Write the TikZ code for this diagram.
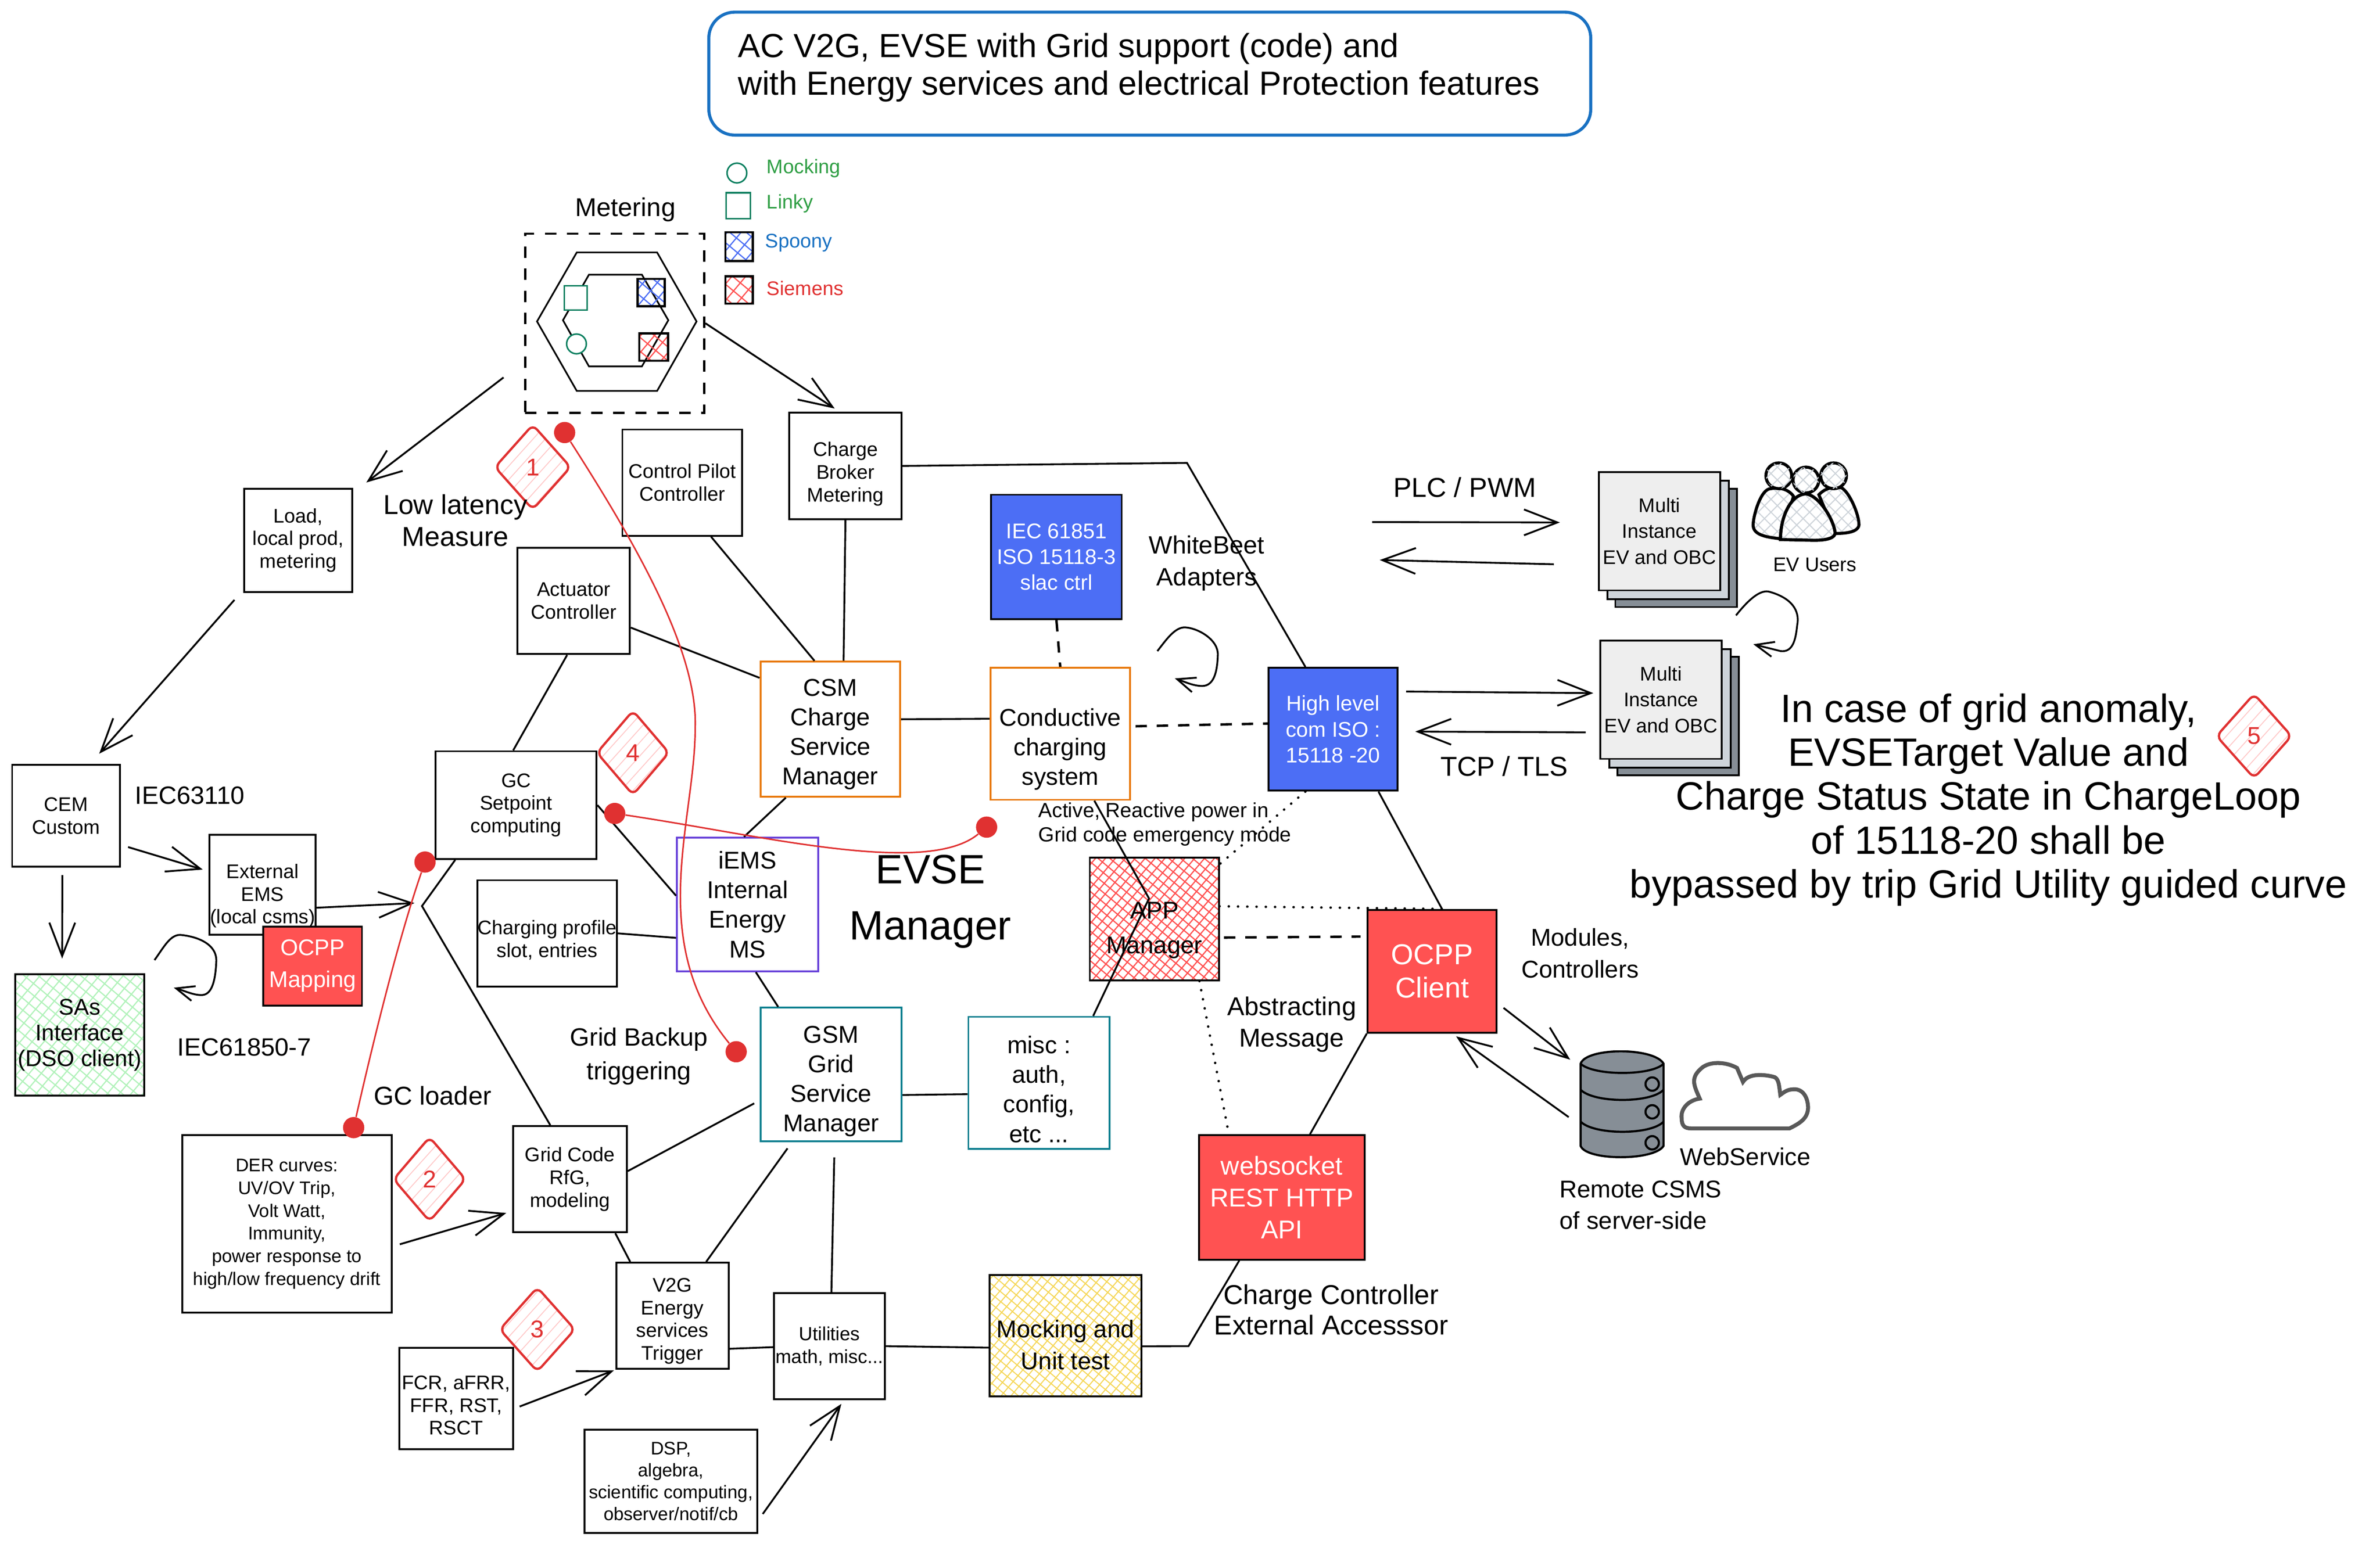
\documentclass[tikz,border=0pt]{standalone}
\usepackage{fontspec}
\setmainfont{Liberation Sans}
\usetikzlibrary{arrows.meta,patterns.meta,shapes.geometric}
\newcommand{\fs}[2]{\fontsize{#1}{#2}\selectfont}
\newcommand{\upgap}[1]{\rule{0pt}{#1}}
\definecolor{ttblue}{HTML}{1971C2}
\definecolor{ttteal}{HTML}{0B7F5F}
\definecolor{ttgreen}{HTML}{2F9E44}
\definecolor{ttred}{HTML}{E03131}
\definecolor{fillblue}{HTML}{4C6EF5}
\definecolor{fillred}{HTML}{FF5252}
\definecolor{ttorange}{HTML}{E8790C}
\definecolor{ttcyan}{HTML}{0C7F8F}
\definecolor{ttpurple}{HTML}{6741D9}
\definecolor{greyA}{HTML}{EEEEEE}
\definecolor{greyB}{HTML}{CED4DA}
\definecolor{greyC}{HTML}{868E96}
\definecolor{hatchgreen}{HTML}{B2F2BB}
\definecolor{hatchyellow}{HTML}{F5D75A}
\definecolor{hatchpink}{HTML}{FFC9C9}
\tikzset{
  blk/.style={draw, line width=1.2pt, align=center, inner sep=0pt, font=\fs{13}{15}},
  blkbig/.style={blk, font=\fs{16}{19.5}},
  txt/.style={align=center, inner sep=0pt, font=\fs{17}{21}},
  conn/.style={line width=1.2pt},
  arw/.style={line width=1.2pt, -{Straight Barb[length=22pt,width=17pt]}},
  arwsm/.style={line width=1.2pt, -{Straight Barb[length=12pt,width=10pt]}},
  dashedln/.style={line width=1.6pt, dash pattern=on 7.5pt off 6.5pt},
  dottedln/.style={line width=1.6pt, line cap=round, dash pattern=on 0.1pt off 6pt},
  redln/.style={draw=ttred, line width=1pt},
  reddot/.style={circle, fill=ttred, minimum size=14pt, inner sep=0pt},
  mark5/.style={diamond, draw=ttred, line width=1.5pt, aspect=0.9, inner sep=0pt, rounded corners=4pt, text=ttred, font=\fs{16}{18},
    pattern={Lines[angle=48,distance=6pt,line width=.6pt]}, pattern color=hatchpink},
  hatchred/.style={pattern={Hatch[angle=50,distance=7pt,line width=.8pt]}, pattern color=fillred},
  hatchblue/.style={pattern={Hatch[angle=50,distance=7pt,line width=.8pt]}, pattern color=fillblue},
}
\begin{document}
\begin{tikzpicture}[x=1pt, y=-1pt]
\useasboundingbox (0,0) rectangle (1568,1029);
% title
\node[draw=ttblue, line width=2pt, rounded corners=17pt, minimum width=581pt, minimum height=81pt] (titlebox) at (757.5,48.5){};
\node[anchor=west, align=left, inner sep=0pt, font=\fs{22}{25}] (titletxt) at (486,44.5){AC V2G, EVSE with Grid support (code) and\\with Energy services and electrical Protection features};
% legend
\node[circle, draw=ttteal, line width=1pt, minimum size=13pt, inner sep=0pt] (lgcircle) at (485.5,114){};
\node[draw=ttteal, line width=1pt, minimum width=16pt, minimum height=17pt] (lgsquare) at (486.5,135.5){};
\node[draw, line width=1.4pt, hatchblue, minimum width=18pt, minimum height=19pt] (lgblue) at (487,162.5){};
\node[draw, line width=1.4pt, hatchred, minimum width=18pt, minimum height=18pt] (lgred) at (487,191){};
\node[anchor=west, inner sep=0pt, text=ttgreen, font=\fs{13}{15}] (lgmock) at (505,111){Mocking};
\node[anchor=west, inner sep=0pt, text=ttgreen, font=\fs{13}{15}] (lglinky) at (505,134){Linky};
\node[anchor=west, inner sep=0pt, text=ttblue, font=\fs{13}{15}] (lgspoony) at (504,160){Spoony};
\node[anchor=west, inner sep=0pt, text=ttred, font=\fs{13}{15}] (lgsiemens) at (505,190){Siemens};
% metering
\node[txt] (metlabel) at (412,138){Metering};
\node[draw, line width=1.5pt, dash pattern=on 7.5pt off 7pt, minimum width=118pt, minimum height=118pt] (metbox) at (405,213){};
\draw[line width=1.1pt] (353.8,211.8) -- (380,166.3) -- (432.9,166.3) -- (458.9,211.8) -- (432.9,257.6) -- (380,257.6) -- cycle;
\draw[line width=1.1pt] (370.9,211) -- (388,181) -- (422.9,181) -- (440.3,211) -- (422.9,241.4) -- (388,241.4) -- cycle;
\node[draw=ttteal, line width=1pt, fill=white, minimum width=15pt, minimum height=16pt] (metsq) at (379.2,196.2){};
\node[circle, draw=ttteal, line width=1pt, fill=white, minimum size=13pt, inner sep=0pt] (metcirc) at (379.8,226.6){};
\node[draw, line width=1.4pt, hatchblue, minimum width=18pt, minimum height=18pt] (metblue) at (429,192.8){};
\node[draw, line width=1.4pt, hatchred, minimum width=19pt, minimum height=18pt] (metred) at (430.7,228.7){};
% boxes on the left
\node[blk, minimum width=71pt, minimum height=68pt] (load) at (196.5,356){Load,\\local prod,\\metering};
\node[blk, minimum width=71pt, minimum height=67pt] (cem) at (43.5,537.5){CEM\\Custom};
\node[blk, minimum width=70pt, minimum height=66pt] (extems) at (173,583){\upgap{24pt}External\\EMS\\(local csms)};
\node[blk, fill=fillred, text=white, font=\fs{15}{21}, minimum width=65pt, minimum height=52pt] (ocppmap) at (206,636.5){OCPP\\Mapping};
\node[blk, pattern={Hatch[angle=50,distance=6pt,line width=.8pt]}, pattern color=hatchgreen, font=\fs{15}{17}, minimum width=85pt, minimum height=80pt] (sas) at (52.5,682){SAs\\Interface\\(DSO client)};
\node[blk, minimum width=106pt, minimum height=71pt] (gcset) at (340,530.5){GC\\Setpoint\\computing};
\node[blk, minimum width=74pt, minimum height=70pt] (actuator) at (378,396){Actuator\\Controller};
\node[blk, minimum width=79pt, minimum height=70pt] (ctrlpilot) at (449.5,318){Control Pilot\\Controller};
\node[blk, minimum width=74pt, minimum height=70pt] (broker) at (557,307){\upgap{20pt}Charge\\Broker\\Metering};
\node[blk, minimum width=91pt, minimum height=70pt] (chgprof) at (360.5,615){\upgap{18pt}Charging profile\\slot, entries};
% managers
\node[blkbig, draw=ttorange, minimum width=92pt, minimum height=89pt] (csm) at (547,480.5){\upgap{18pt}CSM\\Charge\\Service\\Manager};
\node[blkbig, draw=ttorange, minimum width=92pt, minimum height=87pt] (conductive) at (698.5,483.5){\upgap{32pt}Conductive\\charging\\system};
\node[blkbig, draw=ttpurple, minimum width=93pt, minimum height=88pt] (iems) at (492.5,596){iEMS\\Internal\\Energy\\MS};
\node[blkbig, draw=ttcyan, minimum width=93pt, minimum height=88pt] (gsm) at (547.5,708){\upgap{20pt}GSM\\Grid\\Service\\Manager};
\node[blkbig, draw=ttcyan, minimum width=93pt, minimum height=87pt] (misc) at (684.5,713.5){\upgap{20pt}misc :\\auth,\\config,\\etc ...};
\node[blk, fill=fillblue, text=white, font=\fs{14}{17}, minimum width=86pt, minimum height=82pt] (iec) at (696,367){IEC 61851\\ISO 15118-3\\slac ctrl};
\node[blk, fill=fillblue, text=white, font=\fs{14}{17}, minimum width=85pt, minimum height=81pt] (high) at (878.3,480.5){High level\\com ISO :\\15118 -20};
\node[blk, pattern={Hatch[angle=50,distance=5pt,line width=.8pt]}, pattern color=fillred, font=\fs{16}{23}, minimum width=85pt, minimum height=81pt] (app) at (760.5,605.5){\upgap{26pt}APP\\Manager};
\node[blk, fill=fillred, text=white, font=\fs{19}{22}, minimum width=85pt, minimum height=81pt] (ocpp) at (943.5,640){OCPP\\Client};
\node[blk, fill=fillred, text=white, font=\fs{17}{21}, minimum width=109pt, minimum height=82pt] (websock) at (844.5,789){websocket\\REST HTTP\\API};
% lower part
\node[blk, font=\fs{12}{15}, minimum width=138pt, minimum height=117pt] (der) at (189,806.5){DER curves:\\UV/OV Trip,\\Volt Watt,\\Immunity,\\power response to\\high/low frequency drift};
\node[blk, minimum width=75pt, minimum height=70pt] (gridcode) at (375.5,777){Grid Code\\RfG,\\modeling};
\node[blk, minimum width=74pt, minimum height=70pt] (v2g) at (443,867){\upgap{16pt}V2G\\Energy\\services\\Trigger};
\node[blk, font=\fs{12.5}{15}, minimum width=73pt, minimum height=70pt] (util) at (546.5,887){Utilities\\math, misc...};
\node[blk, pattern={Hatch[angle=50,distance=5pt,line width=.7pt]}, pattern color=hatchyellow, font=\fs{16}{21}, minimum width=100pt, minimum height=80pt] (mock) at (702,880){\upgap{24pt}Mocking and\\Unit test};
\node[blk, minimum width=75pt, minimum height=67pt] (fcr) at (300.5,921.5){\upgap{18pt}FCR, aFRR,\\FFR, RST,\\RSCT};
\node[blk, font=\fs{12}{14.5}, minimum width=114pt, minimum height=68pt] (dsp) at (442,976){DSP,\\algebra,\\scientific computing,\\observer/notif/cb};
% multi instance stacks
\node[blk, fill=greyC, minimum width=80pt, minimum height=78pt] (multiAc) at (1104.2,361){};
\node[blk, fill=greyB, minimum width=80pt, minimum height=78pt] (multiAb) at (1099,355.8){};
\node[blk, fill=greyA, font=\fs{13}{17}, minimum width=80pt, minimum height=78pt] (multiA) at (1093.3,350){Multi\\Instance\\EV and OBC};
\node[blk, fill=greyC, minimum width=80pt, minimum height=78pt] (multiBc) at (1105.5,471.8){};
\node[blk, fill=greyB, minimum width=80pt, minimum height=78pt] (multiBb) at (1100.2,466.7){};
\node[blk, fill=greyA, font=\fs{13}{17}, minimum width=80pt, minimum height=78pt] (multiB) at (1094.3,461){Multi\\Instance\\EV and OBC};
% server
\node[minimum width=55pt, minimum height=69pt, inner sep=0pt] (dbase) at (1068.5,729){};
% free ends and bends
\coordinate (bendbroker) at (782,305);
\coordinate (bendapp) at (757,592);
\coordinate (bendmock) at (783,887);
\coordinate (hub) at (278,597);
\coordinate (hubtip) at (274,595);
\coordinate (plcfrom) at (904,344);
\coordinate (plcto) at (909,369);
% connectors
\draw[conn](ctrlpilot.-62) -- (csm.103);
\draw[conn](broker.south) -- (csm.79);
\draw[conn](actuator.-25) -- (csm.144);
\draw[conn](actuator.-97) -- (gcset.93);
\draw[conn](gcset.east) -- (iems.173);
\draw[conn](chgprof.east) -- (iems.205);
\draw[conn](csm.-123) -- (iems.93);
\draw[conn](iems.-83) -- (gsm.128);
\draw[conn](csm.8) -- (conductive.168);
\draw[dashedln](iec.south) -- (conductive.north);
\draw[dashedln, shorten <=3pt](conductive.6) -- (high.175);
\draw[conn](conductive.-63) -- (bendapp) -- (misc.51);
\draw[conn](broker.east) -- (bendbroker) -- (high.114);
\draw[conn](high.-54) -- (ocpp.81);
\draw[dottedln](high.-114) -- (app.40);
\draw[dottedln](app.11) -- (ocpp.81);
\draw[dashedln, shorten <=3pt, shorten >=4pt](app.-16) -- (ocpp.152);
\draw[dottedln](app.-54) -- (websock.130);
\draw[conn](ocpp.south west) -- (websock.66);
\draw[conn](gsm.-16) -- (misc.189);
\draw[conn, shorten >=4pt](gridcode.8) -- (gsm.200);
\draw[conn](gridcode.-50) -- (v2g.128);
\draw[conn, shorten <=5pt](gsm.-120) -- (v2g.58);
\draw[conn, shorten <=10pt](gsm.-87) -- (util.88);
\draw[conn](v2g.-30) -- (util.181);
\draw[conn](util.east) -- (mock.189);
\draw[conn](mock.-8) -- (bendmock) -- (websock.236);
\draw[arw, shorten >=1pt](extems.-23) -- (hubtip);
\draw[conn](gcset.222) -- (hub) -- (gridcode.110);
\draw[arw, shorten >=4pt](metbox.east) -- (broker.96);
\draw[arw, shorten <=17pt, shorten >=11pt](metbox.203) -- (load.41);
\draw[arw, shorten <=9pt, shorten >=9pt](load.-138) -- (cem.65);
\draw[arw, shorten <=5pt, shorten >=4pt](cem.-28) -- (extems.166);
\draw[arw, shorten <=5pt, shorten >=10pt](cem.-94) -- (sas.106);
\draw[arw, shorten <=5pt, shorten >=4pt](der.-12) -- (gridcode.209);
\draw[arw, shorten <=4pt, shorten >=1pt](fcr.-10) -- (v2g.south west);
\draw[arw, shorten <=5pt, shorten >=3pt](dsp.-24) -- (util.-75);
\draw[arw, shorten <=5pt, shorten >=8pt](ocpp.-26) -- (dbase.137);
\draw[arw, shorten <=9pt, shorten >=3pt](dbase.204) -- (ocpp.-72);
\draw[arw, shorten <=5pt, shorten >=4pt](high.30) -- (multiB.174);
\draw[arw, shorten <=9pt, shorten >=11pt](multiB.208) -- (high.-2);
\draw[arw, shorten >=25pt](plcfrom) -- (multiA.172);
\draw[arw, shorten <=29pt](multiA.209) -- (plcto);
% loops
\coordinate (loopA) at (101.8,632.6);
\coordinate (loopAend) at (114.5,650.8);
\draw[arwsm](loopA) .. controls (108,624) and (112,616) .. (118.7,616) .. controls (130,617) and (143,622) .. (142.5,633.5) .. controls (142,645) and (140,655) .. (133.5,655.6) .. controls (128,656) and (122,653) .. (loopAend);
\coordinate (loopB) at (762.5,429);
\coordinate (loopBend) at (774,447);
\draw[arwsm](loopB) .. controls (768,422) and (774,413) .. (780.9,413.4) .. controls (790,414) and (803,422) .. (802.3,431.8) .. controls (802,442) and (800,452) .. (792,452) .. controls (786,452) and (780,449) .. (loopBend);
\coordinate (loopC) at (1143.7,405.5);
\coordinate (loopCend) at (1155.1,424.5);
\draw[arwsm](loopC) .. controls (1152,395) and (1160,388) .. (1166,390) .. controls (1180,394) and (1186,402) .. (1184,412) .. controls (1183,422) and (1181,430) .. (1173,429) -- (loopCend);
% users
\draw[line width=2pt, pattern={Hatch[angle=45,distance=6pt,line width=.7pt]}, pattern color=greyB] (1166.6,322) .. controls (1160,322) and (1155,340) .. (1155,346) .. controls (1155,353) and (1165,354) .. (1173,355) -- (1181.6,327) .. controls (1178,322) and (1172,321) .. (1166.6,322) -- cycle;
\draw[line width=2pt, pattern={Hatch[angle=45,distance=6pt,line width=.7pt]}, pattern color=greyB] (1198.3,326) .. controls (1203,321) and (1208,321) .. (1213.3,321.4) .. controls (1219,325) and (1225,340) .. (1224.7,346) .. controls (1224,351) and (1215,351.5) .. (1209,351.5) -- cycle;
\draw[line width=2pt, fill=white] (1173,355.5) .. controls (1173,340) and (1180,326) .. (1189.5,325.4) .. controls (1198,326) and (1208,342) .. (1209,351) .. controls (1209,354) and (1205,356) .. (1195,356) -- cycle;
\draw[line width=2pt, pattern={Hatch[angle=45,distance=6pt,line width=.7pt]}, pattern color=greyB] (1173,355.5) .. controls (1173,340) and (1180,326) .. (1189.5,325.4) .. controls (1198,326) and (1208,342) .. (1209,351) .. controls (1209,354) and (1205,356) .. (1195,356) -- cycle;
\foreach \cx/\cy in {1171.9/313.5, 1208/313.5, 1189.8/316.3}
  \draw[line width=2pt, fill=white, postaction={pattern={Hatch[angle=45,distance=6pt,line width=.7pt]}, pattern color=greyB}] (\cx,\cy) circle (8.5);
% database
\draw[line width=1.4pt, fill=greyC] (1041.3,700.9) -- (1041.3,755) .. controls (1045,765) and (1090,765) .. (1096,755) -- (1096,700.9) .. controls (1090,690) and (1045,690) .. (1041.3,700.9) -- cycle;
\draw[line width=1.4pt] (1041.3,700.9) .. controls (1050,709) and (1088,709) .. (1096,700.9);
\draw[line width=1.4pt] (1041.3,718) .. controls (1050,727) and (1088,727) .. (1096,718);
\draw[line width=1.4pt] (1041.3,739) .. controls (1050,748) and (1088,748) .. (1096,739);
\foreach \cy in {714.3, 732.6, 753}
  \draw[line width=1.4pt] (1088.5,\cy) circle (4.4);
% cloud
\draw[line width=2.6pt, draw=black!65] (1114,743.5) -- (1179,743.5) .. controls (1186,740) and (1191,737) .. (1191.2,729.8) .. controls (1191,722) and (1187,717) .. (1180.9,717.8) .. controls (1177,718) and (1175,720) .. (1172.9,721.4) .. controls (1172,715) and (1172,710) .. (1168,709.4) .. controls (1162,708) and (1152,707) .. (1148.3,712.9) -- (1144.4,703.7) .. controls (1138,700) and (1128,699) .. (1122,703) .. controls (1113,710) and (1116,715) .. (1119.8,723.9) .. controls (1112,725) and (1107,731) .. (1107.9,737) .. controls (1108,742) and (1110,743.5) .. (1114,743.5) -- cycle;
% red marks
\node[mark5, minimum width=50pt, minimum height=56pt] (mk1) at (351,307.8){1};
\node[mark5, minimum width=48pt, minimum height=56pt] (mk2) at (283,777){2};
\node[mark5, minimum width=50pt, minimum height=56pt] (mk3) at (354,876){3};
\node[mark5, minimum width=48pt, minimum height=56pt] (mk4) at (417,496){4};
\node[mark5, minimum width=50pt, minimum height=56pt] (mk5) at (1485,485){5};
\node[reddot] (rdA) at (372,285){};
\node[reddot] (rdB) at (485,693){};
\node[reddot] (rdC) at (405,536){};
\node[reddot] (rdD) at (650,545){};
\node[reddot] (rdE) at (280,568){};
\node[reddot] (rdF) at (233,743){};
\draw[redln](rdA) .. controls (420,360) and (460,430) .. (458,480) .. controls (458,540) and (425,620) .. (rdB);
\draw[redln](rdC) .. controls (500,550) and (610,578) .. (rdD);
\draw[redln](rdE) .. controls (262,620) and (245,690) .. (rdF);
% labels
\node[txt, font=\fs{18}{21}] (lowlat) at (300,343){Low latency\\Measure};
\node[txt, font=\fs{16.5}{20}] (lb63110) at (125,524){IEC63110};
\node[txt, font=\fs{16.5}{20}] (lb61850) at (161,690){IEC61850-7};
\node[txt] (lbgc) at (285,722){GC loader};
\node[txt, font=\fs{16.5}{22}] (lbbackup) at (421,696){Grid Backup\\triggering};
\node[txt, font=\fs{27}{37}] (lbevse) at (613,594){EVSE\\Manager};
\node[txt, font=\fs{16.5}{21}] (lbwhite) at (795,371){WhiteBeet\\Adapters};
\node[anchor=west, align=left, inner sep=0pt, font=\fs{13.5}{16}] (lbactive) at (684,543){Active, Reactive power in\\Grid code emergency mode};
\node[txt] (lbabstract) at (851,675){Abstracting\\Message};
\node[txt, font=\fs{18}{20}] (lbcharge) at (877,863){Charge Controller\\External Accesssor};
\node[txt, font=\fs{18}{20}] (lbplc) at (965,321){PLC / PWM};
\node[txt, font=\fs{18}{20}] (lbtcp) at (991,505){TCP / TLS};
\node[txt, font=\fs{13}{15}] (lbusers) at (1195.7,372){EV Users};
\node[txt, font=\fs{16}{21}] (lbmodules) at (1041,628){Modules,\\Controllers};
\node[txt, font=\fs{16}{20}] (lbweb) at (1149.9,762){WebService};
\node[anchor=west, align=left, inner sep=0pt, font=\fs{16}{20.5}] (lbremote) at (1027.3,794){Remote CSMS\\of server-side};
\node[txt, font=\fs{26}{29}] (lbanomaly) at (1310,527){In case of grid anomaly,\\EVSETarget Value and\\Charge Status State in ChargeLoop\\of 15118-20 shall be\\bypassed by trip Grid Utility guided curve};
\end{tikzpicture}
\end{document}
